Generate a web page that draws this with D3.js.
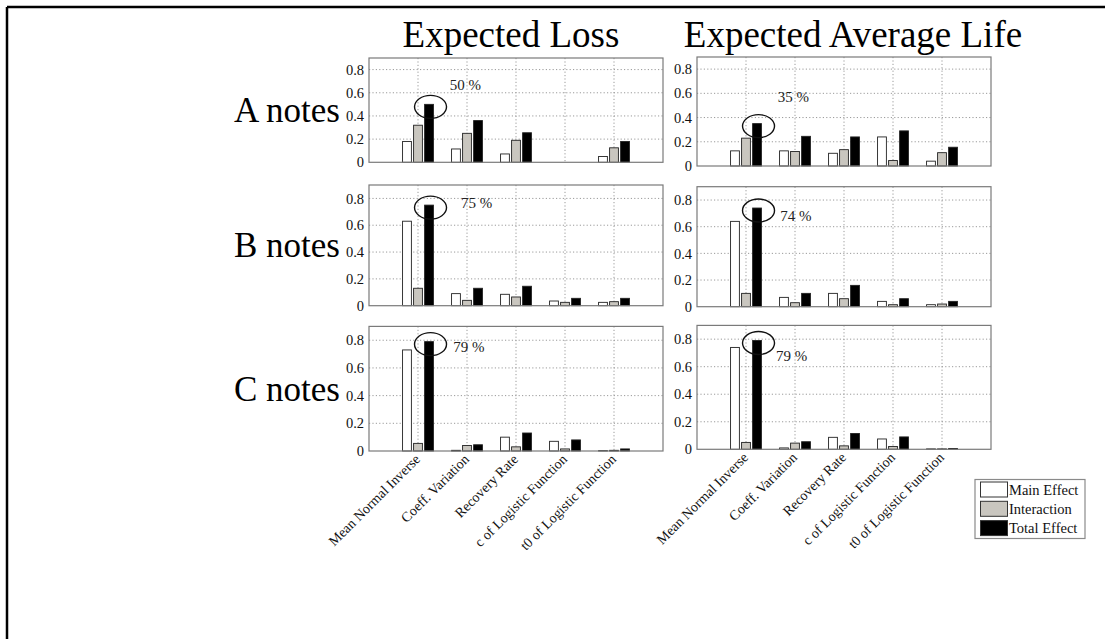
<!DOCTYPE html>
<html>
<head>
<meta charset="utf-8">
<script src="https://cdn.jsdelivr.net/npm/d3@7"></script>
<style>
  html, body { margin: 0; padding: 0; background: #fff; }
  svg { display: block; font-family: "Liberation Serif", "Times New Roman", serif; }
</style>
</head>
<body>
<svg id="chart" width="1105" height="639"></svg>
<script>
// Sensitivity indices of the note model inputs
const categories = ["Mean Normal Inverse", "Coeff. Variation", "Recovery Rate",
                    "c of Logistic Function", "t0 of Logistic Function"];
const seriesNames = ["Main Effect", "Interaction", "Total Effect"];
const noteClasses = ["A notes", "B notes", "C notes"];
const measures = ["Expected Loss", "Expected Average Life"];
const yTicks = [0, 0.2, 0.4, 0.6, 0.8];

// Expected Loss
const elA_main  = [0.18, 0.115, 0.072, 0, 0.05];
const elA_inter = [0.32, 0.25, 0.19, 0, 0.125];
const elA_total = [0.50, 0.36, 0.255, 0, 0.18];
const elB_main  = [0.63, 0.09, 0.085, 0.035, 0.025];
const elB_inter = [0.13, 0.04, 0.065, 0.025, 0.03];
const elB_total = [0.75, 0.13, 0.145, 0.055, 0.055];
const elC_main  = [0.73, 0.005, 0.10, 0.07, 0.003];
const elC_inter = [0.055, 0.04, 0.03, 0.015, 0.005];
const elC_total = [0.79, 0.045, 0.13, 0.08, 0.015];

// Expected Average Life
const ealA_main  = [0.125, 0.125, 0.105, 0.24, 0.04];
const ealA_inter = [0.23, 0.12, 0.135, 0.045, 0.11];
const ealA_total = [0.35, 0.245, 0.24, 0.29, 0.155];
const ealB_main  = [0.64, 0.07, 0.10, 0.04, 0.015];
const ealB_inter = [0.10, 0.03, 0.06, 0.015, 0.02];
const ealB_total = [0.74, 0.10, 0.16, 0.06, 0.04];
const ealC_main  = [0.74, 0.01, 0.087, 0.075, 0.003];
const ealC_inter = [0.05, 0.045, 0.025, 0.02, 0.003];
const ealC_total = [0.79, 0.055, 0.115, 0.09, 0.006];

// [row][column] -> [main, interaction, total]
const panelData = [
  [[elA_main, elA_inter, elA_total], [ealA_main, ealA_inter, ealA_total]],
  [[elB_main, elB_inter, elB_total], [ealB_main, ealB_inter, ealB_total]],
  [[elC_main, elC_inter, elC_total], [ealC_main, ealC_inter, ealC_total]]
];

// Where each percentage note sits, in axis units [x, y]
const notePos = [
  [[1.65, 0.62], [1.65, 0.525]],
  [[1.88, 0.727], [1.70, 0.644]],
  [[1.72, 0.717], [1.61, 0.645]]
];

// ---- layout ----
const colX = [[369, 663], [697, 991]];
const rowY = [
  [[58, 162.3], [57, 166]],
  [[185, 305.7], [186.7, 306.7]],
  [[326.4, 451], [325.4, 449.3]]
];
const fills = ["#ffffff", "#c9c6bf", "#000000"];
const barOffset = 0.225, barWidth = 0.18;

const svg = d3.select("#chart");

// figure border (top and left edges)
svg.append("line").attr("x1", 7).attr("x2", 1105).attr("y1", 7).attr("y2", 7)
  .attr("stroke", "#000").attr("stroke-width", 2.5);
svg.append("line").attr("x1", 7).attr("x2", 7).attr("y1", 7).attr("y2", 639)
  .attr("stroke", "#000").attr("stroke-width", 2.5);

// column titles
measures.forEach((m, c) => {
  svg.append("text")
    .attr("x", (colX[c][0] + colX[c][1]) / 2 - (c === 0 ? 5 : -9))
    .attr("y", 47)
    .attr("text-anchor", "middle")
    .attr("font-size", 37)
    .attr("fill", "#000")
    .text(m);
});

// row labels
noteClasses.forEach((n, r) => {
  const [t, b] = rowY[r][0];
  svg.append("text")
    .attr("x", 340)
    .attr("y", (t + b) / 2 + 12)
    .attr("text-anchor", "end")
    .attr("font-size", 35)
    .attr("fill", "#000")
    .text(n);
});

panelData.forEach((row, r) => {
  row.forEach((vals, c) => {
    const [x0, x1] = colX[c];
    const [top, bottom] = rowY[r][c];
    const x = d3.scaleLinear().domain([0, categories.length + 1]).range([x0, x1]);
    const y = d3.scaleLinear().domain([0, 0.9]).range([bottom, top]);
    const g = svg.append("g");

    // white plot area
    g.append("rect").attr("x", x0).attr("y", top)
      .attr("width", x1 - x0).attr("height", bottom - top).attr("fill", "#fff");

    // dotted grid
    g.selectAll(".gy").data(yTicks.filter(v => v > 0)).join("line")
      .attr("x1", x0).attr("x2", x1)
      .attr("y1", d => y(d)).attr("y2", d => y(d))
      .attr("stroke", "#9a9a9a").attr("stroke-width", 1)
      .attr("stroke-dasharray", "1.2,2.2");
    g.selectAll(".gx").data(categories.map((_, i) => i + 1)).join("line")
      .attr("x1", d => x(d)).attr("x2", d => x(d))
      .attr("y1", top).attr("y2", bottom)
      .attr("stroke", "#9a9a9a").attr("stroke-width", 1)
      .attr("stroke-dasharray", "1.2,2.2");

    // grouped bars
    vals.forEach((series, s) => {
      g.selectAll(".b" + s).data(series).join("rect")
        .attr("x", (d, i) => x(i + 1 + (s - 1) * barOffset - barWidth / 2))
        .attr("y", d => y(d))
        .attr("width", x(barWidth) - x(0))
        .attr("height", d => Math.max(0, y(0) - y(d)))
        .attr("fill", fills[s])
        .attr("stroke", d => d > 0 ? "#222" : "none")
        .attr("stroke-width", 0.9);
    });

    // y axis labels
    const axis = d3.axisLeft(y).tickValues(yTicks).tickSize(0).tickPadding(5)
      .tickFormat(d => d === 0 ? "0" : d3.format(".1f")(d));
    const ag = g.append("g").attr("transform", `translate(${x0},0)`).call(axis);
    ag.select(".domain").remove();
    ag.selectAll("text")
      .attr("font-family", "Liberation Serif, Times New Roman, serif")
      .attr("font-size", 14.5).attr("fill", "#111");

    // frame
    g.append("rect").attr("x", x0).attr("y", top)
      .attr("width", x1 - x0).attr("height", bottom - top)
      .attr("fill", "none").attr("stroke", "#7a7a7a").attr("stroke-width", 1.2);

    // total-effect highlight on the first input
    const tot = vals[2][0];
    const bx = x(1 + barOffset);
    g.append("ellipse")
      .attr("cx", bx + 1.5).attr("cy", y(tot) + 2.5)
      .attr("rx", 16).attr("ry", 11.5)
      .attr("fill", "none").attr("stroke", "#111").attr("stroke-width", 1.4);
    const [nx, ny] = notePos[r][c];
    g.append("text")
      .attr("x", x(nx)).attr("y", y(ny))
      .attr("font-size", 15).attr("fill", "#222")
      .text(Math.round(tot * 100) + " %");

    // category labels on the bottom row
    if (r === panelData.length - 1) {
      g.selectAll(".xl").data(categories).join("text")
        .attr("transform", (d, i) => `translate(${x(i + 1) + 3},${bottom + 9}) rotate(-45)`)
        .attr("text-anchor", "end")
        .attr("font-size", 14)
        .attr("fill", "#111")
        .text(d => d);
    }
  });
});

// legend
const lg = svg.append("g");
lg.append("rect").attr("x", 975).attr("y", 479.5).attr("width", 110).attr("height", 59)
  .attr("fill", "#fff").attr("stroke", "#8a8a8a").attr("stroke-width", 1.2);
seriesNames.forEach((name, s) => {
  const yy = 482 + s * 19.3;
  lg.append("rect").attr("x", 980.5).attr("y", yy).attr("width", 27).attr("height", 15)
    .attr("fill", fills[s]).attr("stroke", "#333").attr("stroke-width", 1);
  lg.append("text").attr("x", 1009).attr("y", yy + 12.5)
    .attr("font-size", 14.5).attr("fill", "#111").text(name);
});
</script>
</body>
</html>
